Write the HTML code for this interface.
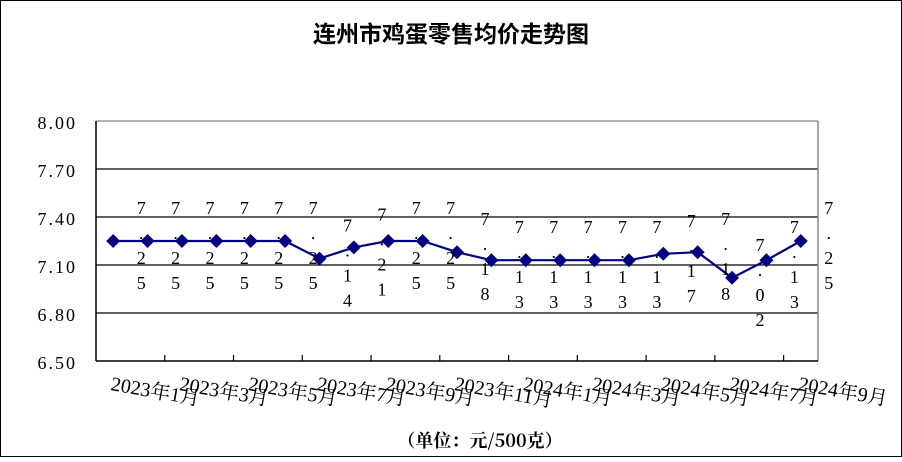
<!DOCTYPE html>
<html><head><meta charset="utf-8"><style>
body{margin:0;background:#fff;}
svg text{font-family:"Liberation Serif","Noto Serif CJK SC",serif;}
</style></head><body>
<svg width="902" height="457" viewBox="0 0 902 457" xmlns="http://www.w3.org/2000/svg">
<rect x="0.5" y="0.5" width="901" height="456" fill="#fff" stroke="#000"/>
<text x="451" y="42" text-anchor="middle" font-size="23" font-weight="bold" style="font-family:'Noto Sans CJK SC',sans-serif">连州市鸡蛋零售均价走势图</text>
<g stroke="#000" stroke-width="1.3">
<line x1="96" y1="169" x2="818" y2="169"/>
<line x1="96" y1="217" x2="818" y2="217"/>
<line x1="96" y1="265" x2="818" y2="265"/>
<line x1="96" y1="313" x2="818" y2="313"/>
</g>
<line x1="96" y1="121" x2="818" y2="121" stroke="#888" stroke-width="1.3"/>
<line x1="818" y1="121" x2="818" y2="361" stroke="#888" stroke-width="1.5"/>
<line x1="96" y1="121" x2="96" y2="361" stroke="#000" stroke-width="1.5"/>
<line x1="96" y1="361" x2="818" y2="361" stroke="#000" stroke-width="1.5"/>
<g stroke="#000" stroke-width="1.2" id="ticks"></g>
<g font-size="18" text-anchor="end" style="font-family:'Liberation Sans',sans-serif;letter-spacing:2px">
<text x="77" y="129">8.00</text><text x="77" y="177">7.70</text><text x="77" y="225">7.40</text>
<text x="77" y="273">7.10</text><text x="77" y="321">6.80</text><text x="77" y="369">6.50</text>
</g>
<g id="series"></g>
<g id="labels" font-size="18" fill="#000"></g>
<g id="xl" font-size="20"></g>
<text x="480" y="447" text-anchor="middle" font-size="18" font-weight="bold" style="font-family:'Noto Serif CJK SC',serif">（单位：元/500克）</text>
</svg>
<script>
var v=[7.25,7.25,7.25,7.25,7.25,7.25,7.14,7.21,7.25,7.25,7.18,7.13,7.13,7.13,7.13,7.13,7.17,7.18,7.02,7.13,7.25];
var ns="http://www.w3.org/2000/svg",w=722/21;
function el(t,a,p){var e=document.createElementNS(ns,t);for(var k in a)e.setAttribute(k,a[k]);p.appendChild(e);return e;}
var tk=document.getElementById('ticks');
for(var k=2;k<21;k+=2){var x=96+w*k;el('line',{x1:x,y1:355,x2:x,y2:361},tk);}
var s=document.getElementById('series'),pts=[];
function X(i){return 96+w*(i+0.5);} function Y(t){return 121+(8-t)*160;}
for(var i=0;i<21;i++)pts.push(X(i)+','+Y(v[i]));
el('polyline',{points:pts.join(' '),fill:'none',stroke:'#000080','stroke-width':2.2},s);
for(var i=0;i<21;i++){var x=X(i),y=Y(v[i]);el('polygon',{points:(x-7)+','+y+' '+x+','+(y-7)+' '+(x+7)+','+y+' '+x+','+(y+7),fill:'#000080'},s);}
var L=document.getElementById('labels');
for(var i=0;i<21;i++){var x=X(i)+28,y=Y(v[i])-27,str=v[i].toFixed(2);
for(var j=0;j<4;j++){var t=el('text',{x:x,y:y+j*25,'text-anchor':'middle'},L);t.textContent=str[j];}}
var XL=document.getElementById('xl');
var names=[];for(var m=1;m<=12;m+=2)names.push('2023年'+m+'月');for(var m=1;m<=9;m+=2)names.push('2024年'+m+'月');
for(var k=0;k<names.length;k++){var x=110+68.76*k,y=390;var t=el('text',{x:x,y:y,transform:'rotate(10 '+x+' '+y+')'},XL);t.textContent=names[k];}
</script>
</body></html>
